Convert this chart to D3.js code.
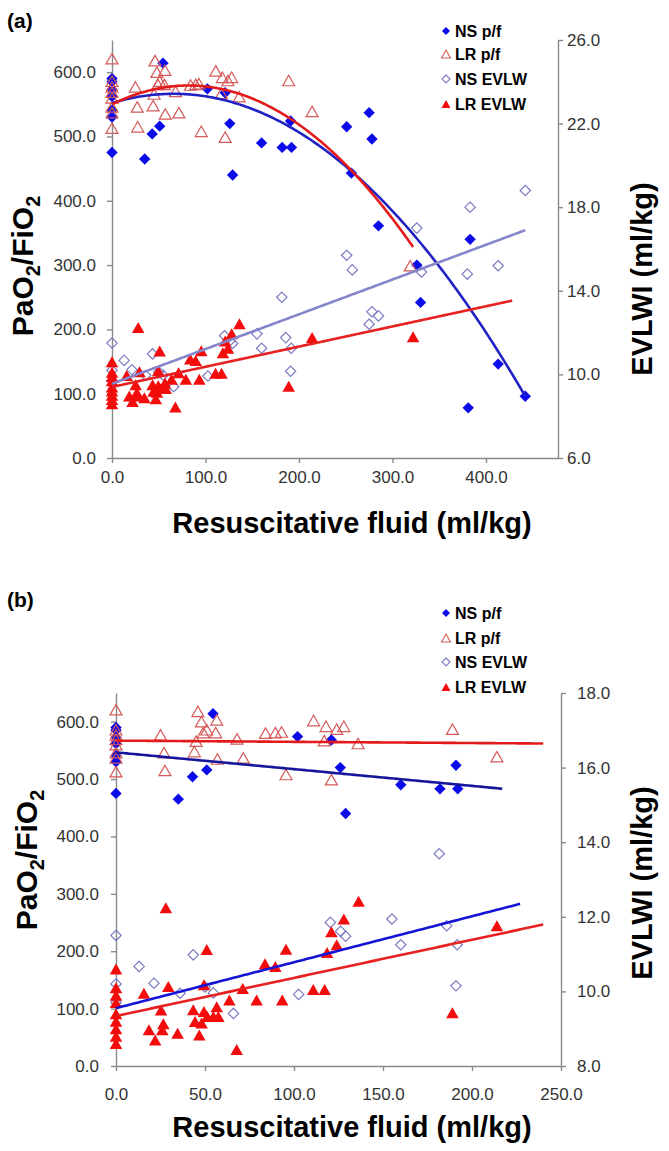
<!DOCTYPE html>
<html><head><meta charset="utf-8">
<script src="https://cdn.jsdelivr.net/npm/d3@7"></script>
<style>
body{margin:0;background:#fff}
text{font-family:"Liberation Sans",Arial,sans-serif}
</style>
</head><body>
<svg id="c" width="669" height="1151"></svg>
<script>
// ---------------- data (x = resuscitative fluid ml/kg) ----------------
const seriesNames = ["NS p/f", "LR p/f", "NS EVLW", "LR EVLW"];

// PaO2/FiO2 (left axis)
const nsPf = [[0,590],[0,585],[0,573],[0,562],[0,541],[0,530],[0,475],
  [35,465],[43,504],[51,516],[54.5,614],[102,574],[121,568],[126,520],[129,440],[160,490],[182,483],[192,483],[191,524],
  [251,515],[256,443],[275,537],[278,496],[285,361],[326,300],[330,242],[381,78],[383,340],[413,146],[442,96]];
const lrPf = [[0,621],[0,586],[0,577],[0,569],[0,560],[0,546],[0,537],[0,513],
  [25,577],[27,546],[27.5,515],[44,548],[45,566],[46,618],[48,600],[49,581],[51,586],[56,581],[56.6,603],[57,535],
  [68,570],[71.5,537],[84,580],[89.5,581],[93,582],[95.5,508],[111,602],[117,567],[118,592],[121,499],[124,587],
  [128,592],[136,562],[189,587],[214,539],[319,299]];
// EVLWI ml/kg (right axis)
const nsEvlw = [[0,11.5],[0,10.2],[0,9.7],
  [13,10.67],[21.3,10.22],[36,9.95],[43.4,10.98],[50,10.12],[54.7,9.96],[66,9.41],[102.6,9.92],[120.4,11.85],
  [126.2,11.61],[129,11.48],[155,11.94],[160,11.25],[181.6,13.69],[185.8,11.76],[191.7,11.25],[191,10.15],
  [251,15.7],[257,15.0],[275,12.4],[278,13.0],[285,12.8],[326,17.0],[331,14.9],[380,14.8],[383,18.0],[413,15.2],[442,18.8]];
const lrEvlw = [[0,10.6],[0,10.1],[0,9.9],[0,9.7],[0,9.4],[0,9.2],[0,9.0],[0,8.8],[0,8.6],
  [15.7,9.95],[18.5,8.97],[22,8.7],[25.3,9.5],[26,8.97],[26.6,9.13],[28,12.24],[29.4,10.13],[34.6,8.88],[43.4,9.51],
  [44.4,9.19],[46.8,8.83],[48.1,9.15],[49.4,9.46],[49.4,10.18],[51,11.12],[51.3,9.33],[54.7,9.33],[56.6,9.59],
  [57.5,9.33],[63.7,9.77],[67.8,8.44],[71.2,10.08],[79,9.77],[83.7,10.74],[89.5,10.67],[93.4,9.77],[95.5,11.13],
  [110.8,10.05],[117.2,10.05],[118.6,11.04],[121,11.6],[124,11.25],[128,11.94],[136.3,12.42],[189,9.43],[214,11.76],[322,11.8]];

// trendline coefficients: [c0, c1, c2] and x-range
const trendA_nsPf   = [552, 0.4363, -0.003321], rangeA_nsPf   = [0, 442];
const trendA_lrPf   = [550, 0.7136, -0.004357], rangeA_lrPf   = [0, 322];
const trendA_nsEvlw = [9.55, 0.01663, 0],       rangeA_nsEvlw = [0, 442];
const trendA_lrEvlw = [9.4, 0.00965, 0],        rangeA_lrEvlw = [0, 428];
const trendB_nsPf   = [546.5, -0.292, 0],       rangeB_nsPf   = [0, 217];
const trendB_lrPf   = [567, -0.0209, 0],        rangeB_lrPf   = [0, 240];
const trendB_nsEvlw = [9.55, 0.01232, 0],       rangeB_nsEvlw = [0, 227];
const trendB_lrEvlw = [9.34, 0.01022, 0],       rangeB_lrEvlw = [0, 240];

// tick labels
const leftTicks = [0,100,200,300,400,500,600];
const xTicksA = [0,100,200,300,400];
const xTicksB = [0,50,100,150,200,250];
const rTicksA = [6,10,14,18,22,26];
const rTicksB = [8,10,12,14,16,18];

// ---------------- drawing ----------------
const svg = d3.select("#c");
const fmt = d3.format(".1f");
const diamond = r => `M0,${-r}L${r},0L0,${r}L${-r},0Z`;
const tri = (w,h) => `M0,${-h/2}L${w/2},${h/2}L${-w/2},${h/2}Z`;

const panels = [
  {label:"(a)", labelY:28, x0:112, x1:558, yb:458, yt:40, xMax:477, rMin:6, rMax:26,
   xTicks:xTicksA, rTicks:rTicksA, xLimit:1000, leftPad:11, xPad:8, rPad:4,
   trends:[[trendA_nsPf,rangeA_nsPf,"L","#2222c4"],[trendA_lrPf,rangeA_lrPf,"L","#e41a1a"],
           [trendA_nsEvlw,rangeA_nsEvlw,"R","#8585c9"],[trendA_lrEvlw,rangeA_lrEvlw,"R","#e82020"]],
   legendY:[31,54,79,104], xTitleY:533, yTitleX:33, yTitleC:266, rTitleX:652, rTitleC:279},
  {label:"(b)", labelY:607, x0:116, x1:561, yb:1066, yt:693, xMax:250, rMin:8, rMax:18,
   xTicks:xTicksB, rTicks:rTicksB, xLimit:220, leftPad:12, xPad:17, rPad:11,
   trends:[[trendB_nsPf,rangeB_nsPf,"L","#15159c"],[trendB_lrPf,rangeB_lrPf,"L","#e41a1a"],
           [trendB_nsEvlw,rangeB_nsEvlw,"R","#1414d6"],[trendB_lrEvlw,rangeB_lrEvlw,"R","#e82020"]],
   legendY:[613,638,662,687], xTitleY:1137, yTitleX:37, yTitleC:860, rTitleX:652, rTitleC:883}
];

const axisColor = "#8a8a8a", labelColor = "#333";

function styleAxis(sel){
  sel.attr("font-family", null).attr("font-size", null);
  sel.selectAll("path.domain").attr("stroke", axisColor).attr("stroke-width", 1.4);
  sel.selectAll(".tick line").attr("stroke", axisColor).attr("stroke-width", 1.4);
  sel.selectAll(".tick text").attr("fill", labelColor).style("font-size","17px");
}

panels.forEach(p => {
  const g = svg.append("g");
  const x = d3.scaleLinear().domain([0,p.xMax]).range([p.x0,p.x1]);
  const yL = d3.scaleLinear().domain([0,650]).range([p.yb,p.yt]);
  const yR = d3.scaleLinear().domain([p.rMin,p.rMax]).range([p.yb,p.yt]);

  g.append("g").attr("transform",`translate(0,${p.yb})`)
    .call(d3.axisBottom(x).tickValues(p.xTicks).tickFormat(fmt).tickSize(5).tickSizeOuter(0).tickPadding(p.xPad))
    .call(styleAxis);
  g.append("g").attr("transform",`translate(${p.x0},0)`)
    .call(d3.axisLeft(yL).tickValues(leftTicks).tickFormat(fmt).tickSize(5).tickSizeOuter(0).tickPadding(p.leftPad))
    .call(styleAxis);
  g.append("g").attr("transform",`translate(${p.x1},0)`)
    .call(d3.axisRight(yR).tickValues(p.rTicks).tickFormat(fmt).tickSize(5).tickSizeOuter(0).tickPadding(p.rPad))
    .call(styleAxis);

  const keep = d => d[0] <= p.xLimit;
  // NS p/f filled blue diamonds
  g.append("g").selectAll("path").data(nsPf.filter(keep)).join("path")
    .attr("d", diamond(5.7)).attr("transform", d => `translate(${x(d[0])},${yL(d[1])})`)
    .attr("fill", "#0b0bea");
  // LR p/f hollow triangles
  g.append("g").selectAll("path").data(lrPf.filter(keep)).join("path")
    .attr("d", tri(12,10.5)).attr("transform", d => `translate(${x(d[0])},${yL(d[1])})`)
    .attr("fill", "none").attr("stroke", "#d45a5a").attr("stroke-width", 1.2);
  // NS EVLW hollow diamonds
  g.append("g").selectAll("path").data(nsEvlw.filter(keep)).join("path")
    .attr("d", diamond(5.2)).attr("transform", d => `translate(${x(d[0])},${yR(d[1])})`)
    .attr("fill", "none").attr("stroke", "#7b7bc4").attr("stroke-width", 1.2);
  // LR EVLW filled red triangles
  g.append("g").selectAll("path").data(lrEvlw.filter(keep)).join("path")
    .attr("d", tri(12.5,11)).attr("transform", d => `translate(${x(d[0])},${yR(d[1])})`)
    .attr("fill", "#f20c0c");

  // trend lines
  p.trends.forEach(([c, r, axis, col]) => {
    const ys = axis === "L" ? yL : yR;
    const xs = d3.range(r[0], r[1], 2).concat([r[1]]);
    const line = d3.line().x(v => x(v)).y(v => ys(c[0] + c[1]*v + c[2]*v*v));
    g.append("path").attr("d", line(xs)).attr("fill","none").attr("stroke", col).attr("stroke-width", 2.6);
  });

  // panel label
  g.append("text").attr("x", 7).attr("y", p.labelY).attr("font-weight","bold").attr("font-size", 21).text(p.label);

  // x title
  g.append("text").attr("x", 352).attr("y", p.xTitleY).attr("text-anchor","middle")
    .attr("font-weight","bold").attr("font-size", 29).text("Resuscitative fluid (ml/kg)");

  // left title with subscripts
  const lt = g.append("text").attr("transform", `translate(${p.yTitleX},${p.yTitleC}) rotate(-90)`)
    .attr("text-anchor","middle").attr("font-weight","bold").attr("font-size", 30);
  lt.append("tspan").text("PaO");
  lt.append("tspan").attr("dy", 7).attr("font-size", 20).text("2");
  lt.append("tspan").attr("dy", -7).text("/FiO");
  lt.append("tspan").attr("dy", 7).attr("font-size", 20).text("2");

  // right title
  g.append("text").attr("transform", `translate(${p.rTitleX},${p.rTitleC}) rotate(-90)`)
    .attr("text-anchor","middle").attr("font-weight","bold").attr("font-size", 29).text("EVLWI (ml/kg)");

  // legend
  const shapes = [
    {d: diamond(4), fill:"#0b0bea", stroke:"none"},
    {d: tri(9,8), fill:"none", stroke:"#d45a5a"},
    {d: diamond(4), fill:"none", stroke:"#7b7bc4"},
    {d: tri(9,8), fill:"#f20c0c", stroke:"none"}
  ];
  seriesNames.forEach((name, i) => {
    const yy = p.legendY[i];
    g.append("path").attr("d", shapes[i].d).attr("transform", `translate(446,${yy})`)
      .attr("fill", shapes[i].fill).attr("stroke", shapes[i].stroke).attr("stroke-width", 1.1);
    g.append("text").attr("x", 455).attr("y", yy + 5.5).attr("font-weight","bold").attr("font-size", 16)
      .attr("fill","#000").text(name);
  });
});
</script>
</body></html>
